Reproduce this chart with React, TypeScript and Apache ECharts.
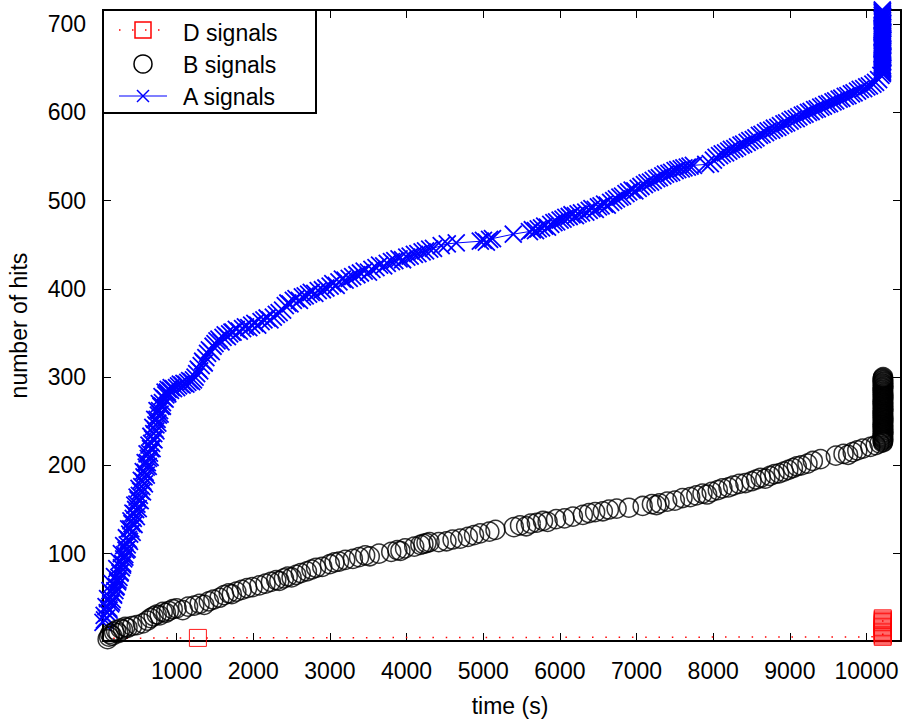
import React, { useEffect, useRef } from 'react';
import * as echarts from 'echarts';

// A signals: [time (s), number of hits]
const aSignals: number[][] = [
  [40,22],[60,25],[85,27],[55,30],[95,33],[120,36],[115,38],[80,40],[140,43],[150,45],[160,48],[100,49],[178,53],[175,54],[130,58],[195,58],[205,62],[212,63],[160,66],[230,68],[235,70],[248,73],[190,74],[262,78],[265,79],[220,83],[280,84],[295,87],[296,89],[250,91],[310,94],[325,96],[324,99],[280,100],[340,104],[355,105],[310,109],[356,110],[385,114],[372,116],[345,118],[388,122],[420,124],[375,128],[402,128],[445,133],[418,134],[405,137],[435,140],[475,142],[450,145],[430,146],[466,150],[500,151],[455,155],[482,156],[525,160],[498,161],[485,164],[514,166],[555,170],[530,171],[510,174],[546,176],[580,179],[560,182],[540,183],[575,187],[605,189],[590,192],[565,193],[604,198],[630,199],[618,203],[590,203],[632,208],[655,209],[615,213],[646,214],[680,219],[660,219],[640,223],[674,225],[705,229],[688,230],[665,233],[702,236],[730,239],[716,241],[690,243],[730,246],[755,248],[746,252],[715,252],[762,257],[785,258],[745,262],[778,262],[815,267],[796,267],[775,270],[815,271],[850,275],[835,276],[810,278],[860,280],[885,281],[880,283],[850,283],[920,285],[890,286],[960,287],[930,288],[1000,288],
  [1025,290],[1049,292],[1072,291],[1096,293],[1121,292],[1146,294],[1171,296],[1196,295],[1220,297],[1241,300],[1262,304],[1282,309],[1301,307],[1321,313],[1340,318],[1361,316],[1382,322],[1404,327],[1428,331],[1452,329],[1476,335],[1501,338],[1527,341],[1553,343],[1579,340],[1606,345],[1634,348],[1663,346],[1692,349],[1722,351],
  [1737,351],[1779,354],[1818,352],[1861,355],[1898,357],[1942,356],[1979,359],[2021,361],[2058,359],[2102,363],[2139,365],[2181,367],[2218,365],[2262,368],[2301,371],[2338,373],[2383,376],[2418,381],[2452,384],[2479,383],[2523,387],[2558,389],[2602,387],[2641,391],[2678,392],[2722,394],[2757,396],[2803,395],[2848,398],[2902,399],[2948,401],[3003,403],[3038,406],[3082,404],[3118,408],[3163,411],[3198,410],[3252,412],[3297,414],[3352,416],[3398,418],[3447,420],[3503,419],[3548,422],[3601,424],[3648,427],[3702,426],[3748,429],[3803,431],[3847,432],[3902,434],[3948,433],[4003,436],[4047,437],[4102,439],[4148,440],[4203,442],[4248,443],[4302,445],[4351,446],[4452,449],[4531,451],[4648,452],[4962,454],[5003,455],[5041,453],[5083,456],[5121,457],[5392,462],[5603,465],[5641,467],[5682,466],[5718,468],[5761,469],[5802,471],[5838,470],[5881,473],[5922,475],[5958,476],[6003,478],[6041,479],[6078,481],[6122,482],[6158,484],[6203,483],[6238,485],[6282,486],[6338,487],[6383,489],[6418,491],[6462,490],[6503,493],[6538,494],[6583,496],[6618,495],[6662,498],[6702,500],[6738,502],[6783,504],[6818,505],[6862,508],[6898,510],[6943,512],[6978,511],[7022,514],[7058,516],[7103,518],[7138,520],[7182,521],[7218,523],[7262,525],[7298,526],[7343,528],[7378,530],[7423,531],[7458,532],[7503,534],[7538,535],[7583,536],[7618,537],[7662,538],[7698,539],[7742,540],[7903,541],[7962,542],[8003,546],[8038,549],[8083,551],[8118,553],[8162,554],[8203,556],[8238,558],[8282,559],[8318,561],[8363,563],[8398,564],[8443,566],[8478,568],[8523,569],[8558,571],[8603,574],[8638,575],[8683,577],[8718,579],[8763,580],[8798,582],[8843,583],[8878,585],[8923,587],[8958,588],[9003,590],[9038,592],[9083,593],[9118,595],[9163,597],[9198,598],[9243,600],[9278,601],[9323,603],[9358,604],[9403,606],[9438,607],[9483,609],[9518,610],[9563,612],[9598,613],[9643,615],[9678,616],[9723,618],[9758,619],[9803,621],[9838,622],[9883,624],[9918,626],[9963,627],[10003,629],[10038,630],[10083,632],[10118,634],[10158,637],[10188,642],
  [10206,644],[10210,645.5],[10204,647],[10208,648.5],[10212,650],[10206,651.5],[10209,653],[10203,654.5],[10207,656],[10211,657.5],[10205,659],[10209,660.5],[10213,662],[10206,663.5],[10210,665],[10204,666.5],[10208,668],[10212,669.5],[10206,671],[10209,672.5],[10203,674],[10207,675.5],[10211,677],[10205,678.5],[10209,680],[10213,681.5],[10206,683],[10210,684.5],[10204,686],[10208,687.5],[10212,689],[10206,690.5],[10209,692],[10203,693.5],[10207,695],[10211,696.5],[10205,698],[10209,699.5],[10213,701],[10206,702.5],[10210,704],[10204,705.5],[10208,707],[10212,708.5],[10206,710],[10209,711.5],[10205,713],[10208,714.5],[10206,716]
];

// B signals
const bSignals: number[][] = [
  [100,3],[118,6],[135,9],[160,7],[185,11],[210,13],[240,10],[270,15],[300,14],[330,17],[360,16],[420,18],[480,19],[560,21],[620,24],[660,27],[700,29],[740,31],[780,30],[820,34],[860,33],[900,35],[950,37],[1000,38],[1080,36],[1150,40],[1230,41],[1300,43],[1360,42],[1420,46],[1480,48],[1560,50],[1620,53],[1680,55],[1720,54],[1780,57],[1850,59],[1920,61],[1990,62],[2080,64],[2160,66],[2230,68],[2300,70],[2340,69],[2400,72],[2450,74],[2500,73],[2560,76],[2620,78],[2700,80],[2760,82],[2820,84],[2900,85],[3000,88],[3060,90],[3120,91],[3200,93],[3300,94],[3380,96],[3460,98],[3520,97],[3640,100],[3800,102],[3880,104],[3920,103],[3980,106],[4100,108],[4180,110],[4220,111],[4260,112],[4300,113],[4420,113],[4520,114],[4600,116],[4700,117],[4800,119],[4880,121],[4960,123],[5080,125],[5160,127],[5400,130],[5480,132],[5560,131],[5620,134],[5700,135],[5780,137],[5840,136],[5950,139],[6060,140],[6170,142],[6300,144],[6380,146],[6460,147],[6560,148],[6640,150],[6740,151],[6900,152],[7080,154],[7200,156],[7260,155],[7300,157],[7400,159],[7500,160],[7600,163],[7700,164],[7780,166],[7860,168],[7920,167],[7980,170],[8060,172],[8120,174],[8200,175],[8260,177],[8340,179],[8420,180],[8500,182],[8560,184],[8620,186],[8680,185],[8740,188],[8800,190],[8860,191],[8920,193],[8980,195],[9040,197],[9090,199],[9150,200],[9230,202],[9300,205],[9400,207],[9600,211],[9700,213],[9760,212],[9820,215],[9880,217],[9950,219],[10050,221],[10120,223],[10170,225],
  [10213,226],[10217,227],[10211,228],[10215,229],[10219,230],[10213,231],[10216,232],[10210,233],[10214,234],[10218,235],[10212,236],[10216,237],[10220,238],[10213,239],[10217,240],[10211,241],[10215,242],[10219,243],[10213,244],[10216,245],[10210,246],[10214,247],[10218,248],[10212,249],[10216,250],[10220,251],[10213,252],[10217,253],[10211,254],[10215,255],[10219,256],[10213,257],[10216,258],[10210,259],[10214,260],[10218,261],[10212,262],[10216,263],[10220,264],[10213,265],[10217,266],[10211,267],[10215,268],[10219,269],[10213,270],[10216,271],[10210,272],[10214,273],[10218,274],[10212,275],[10216,276],[10220,277],[10213,278],[10217,279],[10211,280],[10215,281],[10219,282],[10213,283],[10216,284],[10210,285],[10214,286],[10218,287],[10212,288],[10216,289],[10220,290],[10213,291],[10217,292],[10211,293],[10215,294],[10219,295],[10213,296],[10216,297],[10210,298],[10214,299],[10217,300]
];

// D signals
const dSignals: number[][] = [
  [0,4],[1278,4.5],
  [10212,5.7],[10212,7.1],[10212,8.5],[10212,9.9],[10212,11.3],[10212,12.7],[10212,14.1],[10212,15.5],[10212,16.9],[10212,18.3],[10212,19.7],[10212,21.1],[10212,22.5],[10212,23.9],[10212,25.3],[10212,26.7]
];

const legendNames = ['D signals', 'B signals', 'A signals'];
const xRange = [40, 10450];
const yRange = [1, 716];
const xTitle = 'time (s)';
const yTitle = 'number of hits';

export default function App() {
  const ref = useRef<HTMLDivElement>(null);
  useEffect(() => {
    document.body.style.margin = '0';
    const chart = echarts.init(ref.current!, null, { renderer: 'svg' });
    const font = "'Liberation Sans', Arial, Helvetica, sans-serif";
    const axisLine = { show: true, onZero: false, lineStyle: { color: '#000', width: 2 } };
    const axisTick = { show: true, inside: true, length: 8, lineStyle: { color: '#000', width: 1 } };
    const label = { fontSize: 23, color: '#000', fontFamily: font, showMinLabel: false, showMaxLabel: false, formatter: (v: number) => String(v) };
    const xBase = { type: 'value', min: xRange[0], max: xRange[1], splitNumber: 10, axisLine, axisTick, splitLine: { show: false } };
    const yBase = { type: 'value', min: yRange[0], max: yRange[1], splitNumber: 7, axisLine, axisTick, splitLine: { show: false } };
    const tx = { fontSize: 23, fontFamily: font, fill: '#000' };
    chart.setOption({
      animation: false,
      backgroundColor: '#fff',
      grid: { left: 103, right: 2, top: 10, bottom: 81, outerBoundsMode: 'none', containLabel: false },
      xAxis: [
        { ...xBase, position: 'bottom', axisLabel: { ...label, margin: 18 } },
        { ...xBase, position: 'top', axisLabel: { show: false } },
      ],
      yAxis: [
        { ...yBase, position: 'left', axisLabel: { ...label, margin: 17 } },
        { ...yBase, position: 'right', axisLabel: { show: false } },
      ],
      series: [
        {
          name: legendNames[0], type: 'line', data: dSignals, silent: true, z: 2,
          symbol: 'rect', symbolSize: 17,
          itemStyle: { color: 'rgba(255,0,0,0)', borderColor: '#ff0000', borderWidth: 0.9 },
          lineStyle: { color: '#ff0000', width: 1.5, type: [1.5, 11.8] },
          emphasis: { disabled: true },
        },
        {
          name: legendNames[2], type: 'line', data: aSignals, silent: true, z: 3, clip: false,
          symbol: 'path://M0 0L1 1M1 0L0 1', symbolSize: 17,
          itemStyle: { color: '#0000ff', borderColor: '#0000ff', borderWidth: 1.8 },
          lineStyle: { color: '#0000ff', width: 1 },
          emphasis: { disabled: true },
        },
        {
          name: legendNames[1], type: 'scatter', data: bSignals, silent: true, z: 4,
          symbol: 'circle', symbolSize: 19,
          itemStyle: { color: 'rgba(0,0,0,0)', borderColor: '#000', borderWidth: 1.5 },
          emphasis: { disabled: true },
        },
      ],
      graphic: [
        { type: 'rect', z: 100, shape: { x: 103, y: 10, width: 213, height: 103 }, style: { fill: '#fff', stroke: '#000', lineWidth: 2 } },
        { type: 'line', z: 101, shape: { x1: 119, y1: 30, x2: 167, y2: 30 }, style: { stroke: '#ff0000', lineWidth: 1.5, lineDash: [1.5, 11.5] } },
        { type: 'rect', z: 102, shape: { x: 135, y: 22, width: 16, height: 16 }, style: { fill: 'none', stroke: '#ff0000', lineWidth: 1.5 } },
        { type: 'text', z: 101, style: { ...tx, text: legendNames[0], x: 183, y: 32.5, verticalAlign: 'middle' } },
        { type: 'circle', z: 101, shape: { cx: 143, cy: 64, r: 9 }, style: { fill: 'none', stroke: '#000', lineWidth: 1.5 } },
        { type: 'text', z: 101, style: { ...tx, text: legendNames[1], x: 183, y: 65, verticalAlign: 'middle' } },
        { type: 'line', z: 101, shape: { x1: 119, y1: 96, x2: 167, y2: 96 }, style: { stroke: '#0000ff', lineWidth: 1.2 } },
        { type: 'line', z: 102, shape: { x1: 137, y1: 90, x2: 149, y2: 102 }, style: { stroke: '#0000ff', lineWidth: 1.5 } },
        { type: 'line', z: 102, shape: { x1: 149, y1: 90, x2: 137, y2: 102 }, style: { stroke: '#0000ff', lineWidth: 1.5 } },
        { type: 'text', z: 101, style: { ...tx, text: legendNames[2], x: 183, y: 96.5, verticalAlign: 'middle' } },
        { type: 'text', z: 101, style: { ...tx, text: xTitle, x: 510, y: 706, align: 'center', verticalAlign: 'middle' } },
        { type: 'text', z: 101, x: 19, y: 325.5, rotation: Math.PI / 2, style: { ...tx, text: yTitle, x: 0, y: 0, align: 'center', verticalAlign: 'middle' } },
      ],
    });
    return () => chart.dispose();
  }, []);
  return <div ref={ref} style={{ width: 903, height: 722 }} />;
}
